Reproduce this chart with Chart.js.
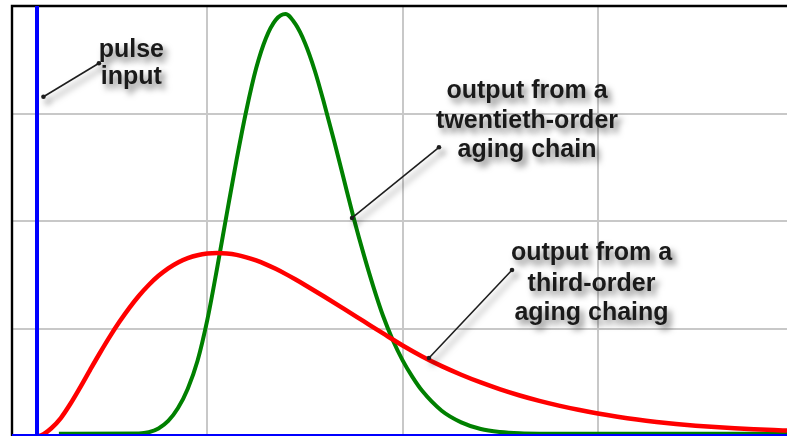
<!DOCTYPE html>
<html>
<head>
<meta charset="utf-8">
<script src="https://cdn.jsdelivr.net/npm/chart.js@4.4.1/dist/chart.umd.min.js"></script>
<style>
  html, body { margin: 0; padding: 0; background: #ffffff; overflow: hidden; }
  #wrap { width: 787px; height: 436px; }
</style>
</head>
<body>
<div id="wrap"><canvas id="c" width="787" height="436"></canvas></div>
<script>
// ---- data (x in grid units: one vertical gridline every 10; y: one horizontal gridline every 10) ----
const pulseX = [0, 1.28, 1.28, 1.28, 39.68];
const pulseY = [0, 0, 45, 0, 0];

const greenX = [2.4, 6.5, 7, 7.5, 8, 8.5, 9, 9.5, 10, 10.5, 11, 11.5, 12, 12.5, 13, 13.5, 14, 14.5, 15, 15.5, 16, 16.5, 17, 17.5, 18, 18.5, 19, 19.5, 20, 20.5, 21, 22, 23, 24, 25, 26, 27, 39.68];
const greenY = [0.22, 0.24, 0.35, 0.7, 1.4, 2.6, 4.4, 7.0, 10.8, 15.6, 20.7, 25.7, 30.3, 34.2, 37.0, 38.7, 39.25, 38.35, 36.56, 34.0, 30.82, 27.4, 23.81, 20.24, 16.94, 13.9, 11.16, 8.91, 7.04, 5.5, 4.2, 2.35, 1.27, 0.65, 0.37, 0.25, 0.22, 0.22];

const redX = [1.28, 1.5, 2, 2.5, 3, 3.5, 4, 4.5, 5, 5.5, 6, 6.5, 7, 7.5, 8, 8.5, 9, 9.5, 10, 10.5, 11, 11.5, 12, 12.5, 13, 13.5, 14, 14.5, 15, 16, 17, 18, 19, 20, 21, 22, 23, 24, 25, 26, 27, 28, 29, 30, 31, 32, 33, 34, 35, 36, 37, 38, 39, 39.68];
const redY = [0, 0.07, 0.70, 1.67, 3.02, 4.55, 6.15, 7.72, 9.22, 10.62, 11.9, 13.05, 14.05, 14.9, 15.6, 16.15, 16.55, 16.82, 16.97, 17.02, 16.98, 16.85, 16.62, 16.33, 15.97, 15.55, 15.08, 14.58, 14.05, 12.95, 11.82, 10.68, 9.54, 8.42, 7.4, 6.5, 5.7, 4.98, 4.34, 3.77, 3.27, 2.83, 2.44, 2.09, 1.79, 1.53, 1.31, 1.12, 0.96, 0.83, 0.72, 0.63, 0.55, 0.5];

// annotation texts (baselines in data units) and leader lines
const noteLines = [
  ["pulse", "input"],
  ["output from a", "twentieth-order", "aging chain"],
  ["output from a", "third-order", "aging chaing"]
];
const noteCenterX = [6.11, 26.37, 29.67];
const noteBaselineY = [[35.28, 32.74], [31.41, 28.62, 25.99], [16.37, 13.51, 10.77]];
const leaderFrom = [[1.61, 31.56], [17.41, 20.28], [21.35, 7.26]];
const leaderTo = [[4.45, 34.67], [21.86, 26.86], [25.60, 15.44]];

const toPts = (xs, ys) => xs.map((x, i) => ({ x: x, y: ys[i] }));

const framePlugin = {
  id: 'frame',
  beforeDatasetsDraw(chart) {
    const { ctx, chartArea: a } = chart;
    ctx.save();
    ctx.strokeStyle = '#000000';
    ctx.lineWidth = 2.4;
    ctx.beginPath();
    ctx.moveTo(a.left, a.bottom + 2);
    ctx.lineTo(a.left, a.top);
    ctx.lineTo(a.right + 2, a.top);
    ctx.stroke();
    ctx.restore();
  }
};

const notesPlugin = {
  id: 'notes',
  afterDatasetsDraw(chart) {
    const { ctx, scales: { x, y } } = chart;
    ctx.save();
    ctx.shadowColor = 'rgba(0,0,0,0.5)';
    ctx.shadowBlur = 6;
    ctx.shadowOffsetX = 4;
    ctx.shadowOffsetY = 5;
    // leader lines
    ctx.strokeStyle = '#1e1e1e';
    ctx.fillStyle = '#1e1e1e';
    ctx.lineWidth = 1.6;
    for (let i = 0; i < leaderFrom.length; i++) {
      const x1 = x.getPixelForValue(leaderFrom[i][0]), y1 = y.getPixelForValue(leaderFrom[i][1]);
      const x2 = x.getPixelForValue(leaderTo[i][0]), y2 = y.getPixelForValue(leaderTo[i][1]);
      ctx.beginPath();
      ctx.moveTo(x1, y1);
      ctx.lineTo(x2, y2);
      ctx.stroke();
      [[x1, y1], [x2, y2]].forEach(p => {
        ctx.beginPath();
        ctx.arc(p[0], p[1], 2.3, 0, Math.PI * 2);
        ctx.fill();
      });
    }
    // texts
    ctx.font = 'bold 25px "Liberation Sans", Arial, sans-serif';
    ctx.textAlign = 'center';
    ctx.textBaseline = 'alphabetic';
    ctx.fillStyle = '#1a1a1a';
    for (let i = 0; i < noteLines.length; i++) {
      const cx = x.getPixelForValue(noteCenterX[i]);
      noteLines[i].forEach((t, j) => {
        ctx.fillText(t, cx, y.getPixelForValue(noteBaselineY[i][j]));
      });
    }
    ctx.restore();
  }
};

new Chart(document.getElementById('c'), {
  type: 'line',
  data: {
    datasets: [
      { label: 'pulse input', data: toPts(pulseX, pulseY), borderColor: '#0000ff', borderWidth: 4, pointRadius: 0, tension: 0, borderJoinStyle: 'round' },
      { label: 'third-order', data: toPts(redX, redY), borderColor: '#ff0000', borderWidth: 4.5, pointRadius: 0, cubicInterpolationMode: 'monotone' },
      { label: 'twentieth-order', data: toPts(greenX, greenY), borderColor: '#008000', borderWidth: 4, pointRadius: 0, cubicInterpolationMode: 'monotone' }
    ]
  },
  options: {
    responsive: false,
    animation: false,
    devicePixelRatio: 1,
    layout: { padding: { left: 12, top: 6, right: 0, bottom: 0 } },
    plugins: { legend: { display: false }, tooltip: { enabled: false } },
    events: [],
    scales: {
      x: {
        type: 'linear', min: 0, max: 39.68,
        ticks: { display: false, stepSize: 10, includeBounds: false },
        grid: { color: '#c8c8c8', lineWidth: 2, drawTicks: false },
        border: { display: false }
      },
      y: {
        type: 'linear', min: 0, max: 40,
        ticks: { display: false, stepSize: 10, includeBounds: false },
        grid: { color: '#c8c8c8', lineWidth: 2, drawTicks: false },
        border: { display: false }
      }
    }
  },
  plugins: [framePlugin, notesPlugin]
});
</script>
</body>
</html>
